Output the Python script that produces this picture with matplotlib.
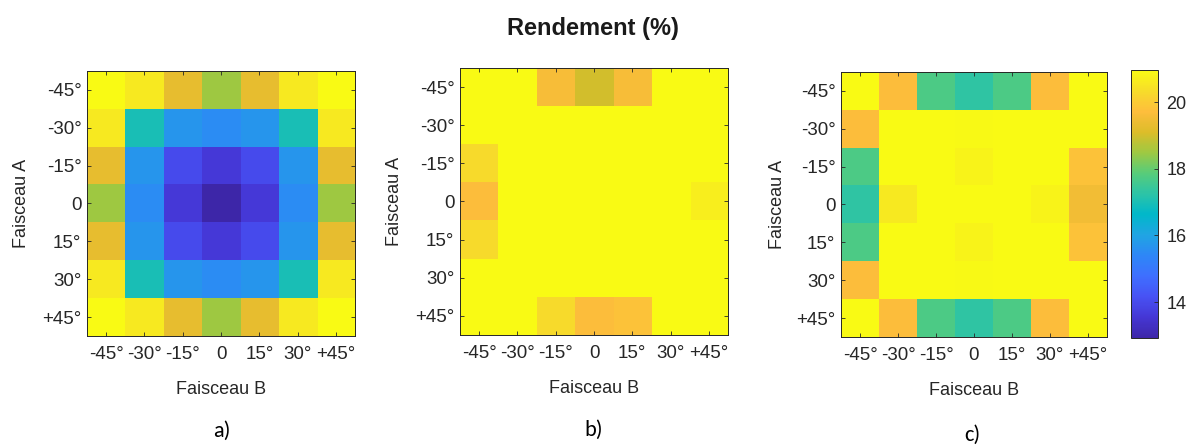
import numpy as np
import matplotlib
matplotlib.use("Agg")
import matplotlib.pyplot as plt
from matplotlib.colors import LinearSegmentedColormap

plt.rcParams['font.family'] = ['Liberation Sans', 'DejaVu Sans']

# angles of beam A (rows) and beam B (columns)
angles_a = ['-45°', '-30°', '-15°', '0', '15°', '30°', '+45°']
angles_b = ['-45°', '-30°', '-15°', '0', '15°', '30°', '+45°']

# rendement (%)
rend_a = [
    [21.0, 20.6, 19.3, 18.5, 19.3, 20.6, 21.0],
    [20.6, 17.0, 15.7, 15.5, 15.7, 17.0, 20.6],
    [19.3, 15.7, 14.0, 13.6, 14.0, 15.7, 19.3],
    [18.5, 15.5, 13.6, 12.95, 13.6, 15.5, 18.5],
    [19.3, 15.7, 14.0, 13.6, 14.0, 15.7, 19.3],
    [20.6, 17.0, 15.7, 15.5, 15.7, 17.0, 20.6],
    [21.0, 20.6, 19.3, 18.5, 19.3, 20.6, 21.0],
]
rend_b = [
    [21.0, 21.0, 19.6, 19.0, 19.6, 21.0, 21.0],
    [21.0, 21.0, 21.0, 21.0, 21.0, 21.0, 21.0],
    [20.3, 21.0, 21.0, 21.0, 21.0, 21.0, 21.0],
    [19.7, 21.0, 21.0, 21.0, 21.0, 21.0, 20.7],
    [20.3, 21.0, 21.0, 21.0, 21.0, 21.0, 21.0],
    [21.0, 21.0, 21.0, 21.0, 21.0, 21.0, 21.0],
    [21.0, 21.0, 20.3, 19.7, 19.8, 21.0, 21.0],
]
rend_c = [
    [21.0, 19.7, 17.7, 17.3, 17.7, 19.7, 21.0],
    [19.7, 21.0, 21.0, 20.9, 21.0, 21.0, 21.0],
    [17.7, 21.0, 21.0, 20.8, 21.0, 21.0, 19.8],
    [17.3, 20.6, 21.0, 21.0, 21.0, 20.8, 19.5],
    [17.7, 21.0, 21.0, 20.8, 21.0, 21.0, 19.8],
    [19.7, 21.0, 21.0, 20.9, 21.0, 21.0, 21.0],
    [21.0, 19.7, 17.7, 17.3, 17.7, 19.7, 21.0],
]
cbar_ticks = [14, 16, 18, 20]
vmin, vmax = 12.92, 20.96

# parula (matlab) approximated from a few of its 64 entries
parula_pts = [
    (0.2422, 0.1504, 0.6603), (0.2706, 0.2147, 0.8364), (0.2810, 0.3228, 0.9579),
    (0.2440, 0.4358, 0.9988), (0.1786, 0.5289, 0.9682), (0.1248, 0.6459, 0.8883),
    (0.0036, 0.7203, 0.7917), (0.1717, 0.7670, 0.6554), (0.3406, 0.8008, 0.4789),
    (0.6174, 0.7876, 0.2612), (0.8634, 0.7406, 0.1596), (0.9956, 0.7434, 0.2371),
    (0.9676, 0.8639, 0.1643), (0.9769, 0.9839, 0.0805),
]
parula = LinearSegmentedColormap.from_list('parula', parula_pts)

grey = '#262626'
W, H = 1197, 445
fig = plt.figure(figsize=(W / 100, H / 100), dpi=100)
boxes = [
    [0.0727, 0.2450, 0.2239, 0.5955],
    [0.3843, 0.2472, 0.2239, 0.6000],
    [0.7026, 0.2427, 0.2222, 0.5955],
]
ylab_x = [30, 403, 786]   # right edge of "Faisceau A", in pixels
data = [rend_a, rend_b, rend_c]
for k, (box, z) in enumerate(zip(boxes, data)):
    ax = fig.add_axes(box)
    im = ax.imshow(np.array(z), cmap=parula, vmin=vmin, vmax=vmax,
                   aspect='auto', interpolation='nearest')
    ax.set_xticks(range(len(angles_b)))
    ax.set_xticklabels(angles_b)
    ax.set_yticks(range(len(angles_a)))
    ax.set_yticklabels(angles_a)
    ax.tick_params(direction='in', top=True, right=True, length=3,
                   width=0.6, colors=grey, labelsize=13.5, labelcolor=grey)
    ax.tick_params(axis='x', pad=7)
    ax.tick_params(axis='y', pad=4)
    for s in ax.spines.values():
        s.set_color(grey)
        s.set_linewidth(0.7)
    ax.set_xlabel('Faisceau B', fontsize=13, color=grey, labelpad=13)
    ax.set_ylabel('Faisceau A', fontsize=13, color=grey)
    ax.yaxis.set_label_coords((ylab_x[k] - box[0] * W) / (box[2] * W), 0.5)

cax = fig.add_axes([0.9449, 0.2404, 0.0226, 0.6022])
cb = fig.colorbar(im, cax=cax, ticks=cbar_ticks)
cb.ax.tick_params(direction='in', length=3, width=0.6, colors=grey,
                  labelsize=13, labelcolor=grey, pad=6)
cb.outline.set_edgecolor(grey)
cb.outline.set_linewidth(0.7)

fig.text(593 / W, 1 - 29 / H, 'Rendement (%)', fontsize=17, fontweight='bold',
         ha='center', va='center', color='#1a1a1a')
for x, y, lab in [(222, 431, 'a)'), (594, 430, 'b)'), (972, 435, 'c)')]:
    fig.text(x / W, 1 - y / H, lab, fontsize=16, ha='center',
             va='center', color='black', family=['Carlito', 'Liberation Sans', 'DejaVu Sans'])

fig.savefig('out.png', dpi=100)
